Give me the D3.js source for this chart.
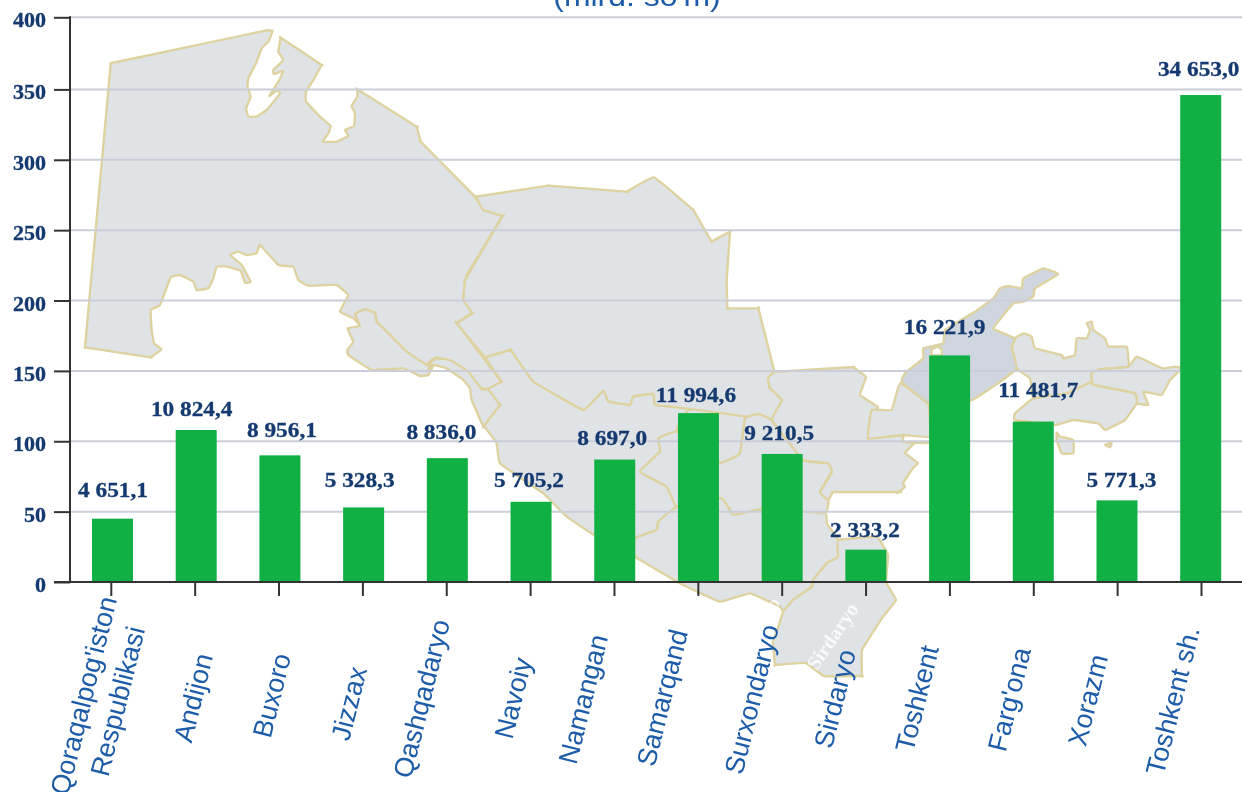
<!DOCTYPE html>
<html><head><meta charset="utf-8">
<script src="https://cdn.jsdelivr.net/npm/d3@7"></script>
<style>html,body{margin:0;padding:0;background:#fff;overflow:hidden}svg{display:block;filter:blur(0.45px)}</style>
</head><body><svg id="c" width="1242" height="792"></svg>
<script>
// ---- data ----
const categories = ["Qoraqalpog'iston Respublikasi","Andijon","Buxoro","Jizzax","Qashqadaryo","Navoiy","Namangan","Samarqand","Surxondaryo","Sirdaryo","Toshkent","Farg'ona","Xorazm","Toshkent sh."];
const barValues = [45,108,90,53,88,57,87,120,91,23,161,114,58,346];
const valueLabels = ["4 651,1","10 824,4","8 956,1","5 328,3","8 836,0","5 705,2","8 697,0","11 994,6","9 210,5","2 333,2","16 221,9","11 481,7","5 771,3","34 653,0"];
const yTicks = [0,50,100,150,200,250,300,350,400];
const titleText = "(mlrd. so'm)";

// ---- hand placement of labels (as in the source picture) ----
const valueLabelDx = [0.5,-4.5,2,-4,-6,-2,-2.5,-2.5,-3,-1,-5,5,4.5,-2];
const valueLabelY = [497,416,437,487,439,487,445,402,440,537,334,397,487,76];
const catLabelEnds = [[[108,597],"Qoraqalpog'iston"],[[136,627],"Respublikasi"],[[204,654],"Andijon"],[[282,654],"Buxoro"],[[358,667],"Jizzax"],[[441,620],"Qashqadaryo"],[[523,658],"Navoiy"],[[599,635],"Namangan"],[[679,630],"Samarqand"],[[770,625],"Surxondaryo"],[[847,650],"Sirdaryo"],[[930,646],"Toshkent"],[[1022,648],"Farg'ona"],[[1099,655],"Xorazm"],[[1191,627],"Toshkent sh."]];

// ---- background map outline (decorative picture, screen coordinates) ----
const z1 = a => a.map(([x,y]) => [x/3,y/3]);
const z2 = a => a.map(([x,y]) => [450+x/3,170+y/3]);
const z3 = a => a.map(([x,y]) => [860+x/3,250+y/3]);
const z4 = a => a.map(([x,y]) => [400+x/3,330+y/3]);
const rot = (a,i) => a.slice(i).concat(a.slice(0,i));
const mapRegions = [
 rot(z1([[332,190],[350,186],[795,92],[795,92],[818,92],[805,125],[785,145],[770,185],[745,235],[742,260],[752,290],[738,325],[745,350],[770,350],[800,330],[825,300],[840,280],[832,270],[808,288],[838,240],[850,212],[822,222],[820,210],[850,180],[835,155],[842,113],[842,113],[965,195],[965,195],[940,240],[918,275],[918,305],[960,350],[992,378],[985,400],[968,425],[1010,425],[1045,408],[1035,390],[1062,378],[1065,340],[1055,318],[1072,290],[1072,268],[1072,268],[1250,380],[1250,380],[1262,425],[1262,425],[1425,590],[1425,590],[1450,628],[1508,648],[1508,648],[1400,825],[1400,825],[1390,895],[1417,938],[1417,938],[1370,968],[1370,968],[1505,1147],[1505,1147],[1470,1165],[1445,1165],[1400,1120],[1350,1085],[1310,1072],[1295,1080],[1280,1095],[1260,1090],[1220,1055],[1165,1000],[1130,965],[1125,938],[1095,928],[1065,942],[1080,975],[1060,955],[1020,935],[1035,905],[1045,885],[1010,855],[925,857],[895,840],[880,800],[835,795],[780,735],[770,760],[740,765],[715,755],[690,765],[725,795],[752,845],[735,848],[722,812],[680,800],[650,800],[640,835],[625,865],[590,870],[580,845],[540,825],[512,832],[480,915],[452,930],[455,990],[462,1030],[485,1048],[452,1072],[452,1072],[275,1045],[255,1042],[257,1020],[330,215]]),4),
 z1([[1065,942],[1095,928],[1125,938],[1130,965],[1165,1000],[1220,1055],[1280,1095],[1300,1095],[1285,1125],[1260,1128],[1210,1105],[1115,1110],[1045,1065],[1042,1050],[1060,1025],[1042,985],[1080,978]]),
 rot(z2([[78,80],[78,80],[295,47],[295,47],[530,65],[530,65],[612,22],[730,120],[730,120],[785,215],[785,215],[840,185],[840,185],[830,330],[832,415],[832,415],[925,415],[925,415],[972,600],[972,600],[955,625],[960,655],[995,690],[965,750],[720,718],[615,705],[610,672],[550,680],[540,705],[475,695],[460,662],[400,720],[250,635],[182,540],[182,540],[105,562],[105,562],[20,460],[20,460],[68,430],[68,430],[40,390],[45,330],[45,330],[158,138],[158,138],[100,120]]),6),
 rot(z2([[105,562],[105,562],[182,540],[182,540],[250,635],[400,720],[460,662],[475,695],[540,705],[550,680],[610,672],[615,705],[720,718],[680,785],[625,805],[630,845],[570,905],[650,950],[680,1010],[625,1055],[620,1080],[555,1105],[555,1160],[440,1100],[350,1040],[280,970],[150,880],[140,820],[100,765],[100,765],[150,705],[150,705],[110,658],[110,658],[155,635],[155,635]]),4),
 z4([[95,95],[110,85],[150,90],[205,125],[245,178],[265,178],[265,178],[300,225],[300,225],[250,290],[250,290],[215,210],[210,175],[190,150],[140,115],[100,105],[85,120]]),
 z2([[680,785],[720,718],[965,750],[925,732],[885,745],[870,850],[810,878]]),
 z2([[680,785],[625,805],[630,845],[570,905],[650,950],[680,1010],[815,985],[850,1035],[930,1018],[1125,1030],[1135,990],[1110,965],[1145,905],[1135,880],[1060,870],[965,750],[925,732],[885,745],[870,850],[810,878]]),
 z2([[680,1010],[815,985],[850,1035],[930,1018],[1125,1030],[1130,1060],[1165,1110],[1165,1160],[1130,1180],[1090,1230],[1085,1250],[1030,1290],[1000,1325],[990,1310],[900,1270],[810,1295],[700,1245],[555,1160],[555,1105],[620,1080],[625,1055]]),
 [[838,540],[877,537],[888,555],[886,582],[896,600],[882,618],[862,650],[862,676],[862,676],[824,676],[806,663],[775,665],[775,665],[773,642],[779,625],[783,612],[793,600],[812,587],[813,580],[827,563],[838,557]],
 [[803,460],[828,463],[832,472],[820,492],[828,500],[833,492],[833,492],[900,492],[900,492],[897,493],[905,487],[903,483],[913,468],[918,463],[905,453],[915,443],[928,443],[903,442],[903,435],[868,438],[868,438],[872,417],[878,407],[860,395],[866,377],[853,367],[853,367],[774,372],[774,372],[768,378],[770,388],[782,400],[772,420]],
 z3([[35,480],[95,480],[120,400],[205,460],[210,560],[130,555],[25,565]]),
 z3([[465,265],[490,250],[515,260],[525,295],[605,315],[610,325],[645,315],[650,265],[680,265],[690,240],[680,220],[695,215],[700,240],[735,265],[745,290],[800,290],[805,350],[720,358],[695,370],[695,395],[620,430],[520,445],[510,385],[470,355],[455,290]]),
 z3([[805,350],[830,320],[885,345],[910,355],[945,350],[965,355],[930,390],[905,435],[850,425],[865,465],[830,460],[825,430],[700,405],[695,370],[720,358]]),
 z3([[695,395],[700,405],[825,430],[830,460],[795,510],[735,540],[715,520],[640,510],[585,525],[465,510],[465,490],[520,445],[620,430]]),
 z3([[590,548],[600,560],[640,570],[640,610],[605,610],[590,570]]),
 z3([[735,585],[755,578],[750,592]])
];
const mapDark = z3([[125,395],[135,370],[190,325],[190,295],[250,280],[255,240],[345,185],[400,145],[420,115],[445,108],[485,115],[490,85],[550,55],[595,72],[525,115],[520,140],[490,155],[460,160],[400,235],[465,265],[455,290],[470,355],[420,395],[335,450],[205,460]]);
const mapHole = z3([[215,298],[232,290],[245,298],[245,316],[215,316]]);

// ---- scales ----
const y = d3.scaleLinear().domain([0,350,400]).range([582,89.4,17.3]);
const xBar = d3.scalePoint().domain(categories).range([112.5,1200.7]);
const xTick = d3.scalePoint().domain(categories).range([110.8,1201]);

const svg = d3.select("#c");
const line = d3.line().curve(d3.curveCardinalClosed.tension(0.75));

// map
const gMap = svg.append("g").attr("stroke","#ddd2a0").attr("stroke-width",2.4).attr("stroke-linejoin","round");
gMap.selectAll("path.r").data(mapRegions).join("path").attr("class","r").attr("d",line).attr("fill","#e0e3e6");
gMap.append("path").attr("d",line(mapDark)).attr("fill","#cfd6df");
gMap.append("path").attr("d",line(mapHole)).attr("fill","#fff");
[["Sirdaryo",838,640,-56,20],["yo",776,610,-60,18]].forEach(([t,px,py,r,s])=>{
  svg.append("text").attr("transform",`translate(${px},${py}) rotate(${r})`).attr("text-anchor","middle")
    .attr("font-family","Liberation Serif").attr("font-weight","bold").attr("font-size",s)
    .attr("fill","#fff").attr("fill-opacity",.8).text(t);
});

// grid
svg.append("g").selectAll("line").data(yTicks.filter(d=>d>0)).join("line")
  .attr("x1",70).attr("x2",1242).attr("y1",d=>y(d)).attr("y2",d=>y(d))
  .attr("stroke","#cbced9").attr("stroke-width",2);

// bars
svg.append("g").selectAll("rect").data(categories).join("rect")
  .attr("x",d=>xBar(d)-20.5).attr("width",41)
  .attr("y",(d,i)=>y(barValues[i])).attr("height",(d,i)=>y(0)-y(barValues[i]))
  .attr("fill","#11b045");

// axes
const yAxis = d3.axisLeft(y).tickValues(yTicks).tickSize(16).tickFormat("");
const gy = svg.append("g").attr("transform","translate(70,0)").call(yAxis);
const xAxis = d3.axisBottom(xTick).tickSize(14).tickFormat("");
const gx = svg.append("g").attr("transform","translate(0,582)").call(xAxis);
gy.selectAll(".domain").remove(); gx.selectAll(".domain").remove();
[gy,gx].forEach(g=>g.selectAll("line").attr("stroke","#333").attr("stroke-width",2));
svg.append("line").attr("x1",70).attr("x2",70).attr("y1",y(400)-1).attr("y2",583).attr("stroke","#333").attr("stroke-width",2);
svg.append("line").attr("x1",54).attr("x2",1242).attr("y1",582).attr("y2",582).attr("stroke","#333").attr("stroke-width",2);

const serif = "'Liberation Serif'";
const navy = "#143a70";
// y labels
svg.append("g").selectAll("text").data(yTicks).join("text")
  .attr("transform",d=>`translate(46,${y(d)+10}) scale(1.05,1)`)
  .attr("text-anchor","end").attr("font-family",serif).attr("font-weight","bold").attr("font-size",21).attr("fill",navy)
  .attr("stroke",navy).attr("stroke-width",0.3)
  .text(d=>d);

// value labels
svg.append("g").selectAll("text").data(categories).join("text")
  .attr("transform",(d,i)=>`translate(${xBar(d)+valueLabelDx[i]},${valueLabelY[i]}) scale(1.11,1)`)
  .attr("text-anchor","middle").attr("font-family",serif).attr("font-weight","bold").attr("font-size",21).attr("fill",navy)
  .attr("stroke",navy).attr("stroke-width",0.3)
  .text((d,i)=>valueLabels[i]);

// category labels
svg.append("g").selectAll("text").data(catLabelEnds).join("text")
  .attr("transform",d=>`translate(${d[0][0]},${d[0][1]}) rotate(-76)`)
  .attr("text-anchor","end").attr("dy","0.35em").attr("font-family","'Liberation Sans'").attr("font-size",27).attr("fill","#1d5ca8")
  .text(d=>d[1]);

// title, cut off by the top of the picture
svg.append("text").attr("transform","translate(637,6) scale(1.14,1)").attr("text-anchor","middle")
  .attr("font-family","'Liberation Sans'").attr("font-size",28).attr("fill","#1d5ca8").text(titleText);
</script></body></html>
